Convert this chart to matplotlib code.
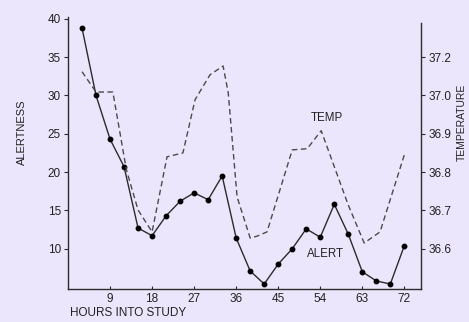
import matplotlib.pyplot as plt

plt.rcParams['font.family'] = ['Liberation Sans', 'DejaVu Sans']

# alertness, sampled every 3 hours
alert_hours = [3, 6, 9, 12, 15, 18, 21, 24, 27, 30, 33, 36,
               39, 42, 45, 48, 51, 54, 57, 60, 63, 66, 69, 72]
alert = [38.8, 30.0, 24.3, 20.7, 12.7, 11.7, 14.3, 16.2, 17.3, 16.4, 19.5, 11.4,
         7.1, 5.4, 8.0, 10.0, 12.6, 11.5, 15.8, 11.9, 7.0, 5.8, 5.4, 10.4]

# body temperature (dashed trace)
temp_hours = [3, 6, 9.6, 12.5, 15, 18, 21.2, 24.6, 27.2, 30.4, 33.2, 34.3,
              36.2, 39, 40.5, 42.6, 48, 51.2, 54.2, 60, 63.4, 66.8, 72.2]
temp = [37.062, 37.009, 37.009, 36.806, 36.701, 36.644, 36.840, 36.850,
        36.989, 37.054, 37.077, 37.007, 36.735, 36.628, 36.633, 36.644,
        36.858, 36.861, 36.908, 36.714, 36.615, 36.644, 36.853]

x_ticks = [9, 18, 27, 36, 45, 54, 63, 72]
alert_ticks = [10, 15, 20, 25, 30, 35, 40]
temp_ticks = [36.6, 36.7, 36.8, 36.9, 37.0, 37.1]
temp_labels = ['36.6', '36.7', '36.8', '36.9', '37.0', '37.2']

bg = '#ECE6FC'
ink = '#2b2b2b'

fig = plt.figure(figsize=(4.69, 3.22), dpi=100, facecolor=bg)
ax = fig.add_axes([0.145, 0.1025, 0.753, 0.845])
ax.set_facecolor(bg)

ax.plot(alert_hours, alert, color=ink, lw=1.0, marker='o', markersize=3.2,
        markerfacecolor='black', markeredgecolor='black', zorder=3)
ax.set_xlim(0, 75.6)
ax.set_ylim(4.75, 40.25)
ax.set_xticks(x_ticks)
ax.set_yticks(alert_ticks)

for s in ['top', 'right']:
    ax.spines[s].set_visible(False)
for s in ['left', 'bottom']:
    ax.spines[s].set_color(ink)
    ax.spines[s].set_linewidth(1.0)

ax.tick_params(axis='y', direction='out', length=3, width=0.8, color=ink,
               labelsize=8.5, labelcolor='#222222', pad=2)
ax.tick_params(axis='x', direction='in', length=2, width=0.8, color=ink,
               labelsize=8.5, labelcolor='#222222', pad=3)

# temperature on a twin axis, 0.1 degC per 5 alertness units
ax2 = ax.twinx()
ax2.plot(temp_hours, temp, color='#4a4a4a', lw=1.0, linestyle=(0, (4, 2.5)))
ax2.set_ylim(36.4 + 4.75 * 0.02, 36.4 + 40.25 * 0.02)
ax2.set_yticks(temp_ticks)
ax2.set_yticklabels(temp_labels)
for s in ['top', 'left', 'bottom']:
    ax2.spines[s].set_visible(False)
ax2.spines['right'].set_color(ink)
ax2.spines['right'].set_linewidth(1.0)
ax2.spines['right'].set_bounds(36.4 + 4.75 * 0.02, 37.19)
ax2.tick_params(axis='y', direction='out', length=3, width=0.8, color=ink,
                labelsize=8.5, labelcolor='#222222', pad=2)

ax.text(55.5, 27.1, 'TEMP', fontsize=8.3, ha='center', va='center', color='#222222')
ax.text(55.1, 9.3, 'ALERT', fontsize=8.3, ha='center', va='center', color='#222222')

fig.text(0.047, 0.59, 'ALERTNESS', rotation=90, fontsize=8, ha='center',
         va='center', color='#222222')
fig.text(0.149, 0.028, 'HOURS INTO STUDY', fontsize=8.5, ha='left',
         va='center', color='#222222')
fig.text(0.984, 0.621, 'TEMPERATURE', rotation=90, fontsize=7.5, ha='center',
         va='center', color='#222222')

fig.savefig('out.png', dpi=100, facecolor=bg)
